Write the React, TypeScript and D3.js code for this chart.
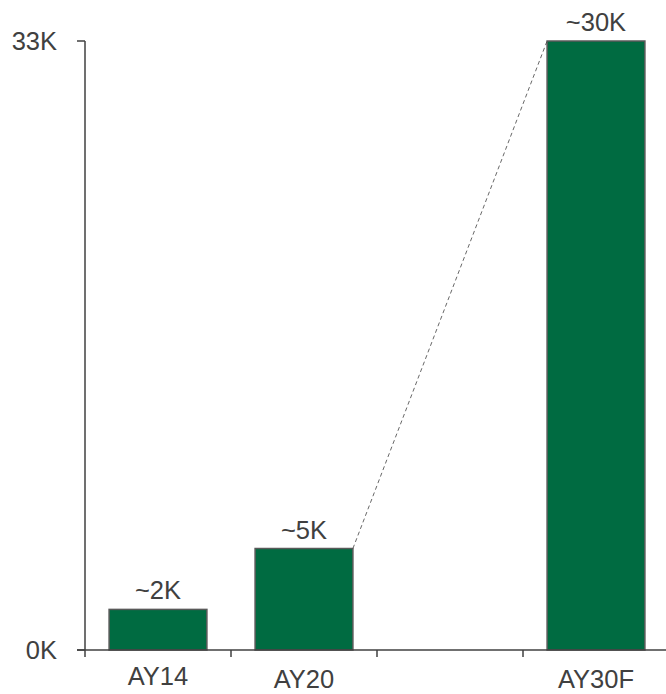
import React from "react";
import * as d3 from "d3";

const categories = ["AY14", "AY20", "", "AY30F"];
const values: (number | null)[] = [2.2, 5.5, null, 33];
const valueLabels = ["~2K", "~5K", "", "~30K"];
const yTickValues = [0, 33];
const yTickLabels = ["0K", "33K"];

const W = 666;
const H = 694;
const FONT = "'Liberation Sans', Arial, Helvetica, sans-serif";
const TEXT = "#404040";
const FS = 25.5;

export default function App() {
  const x = d3
    .scaleBand<string>()
    .domain(categories.map((c, i) => `${i}`))
    .range([85, 669])
    .paddingInner(0.33)
    .paddingOuter(0.165);
  const y = d3.scaleLinear().domain([0, 33]).range([650, 41]);
  const step = x.step();
  const x0 = 85;

  const i20 = 1;
  const i30 = 3;
  const lineFrom = [x(`${i20}`)! + x.bandwidth(), y(values[i20]!)];
  const lineTo = [x(`${i30}`)!, y(values[i30]!)];

  return (
    <svg
      width={W}
      height={H}
      style={{ position: "absolute", left: 0, top: 0, display: "block" }}
      fontFamily={FONT}
    >
      <rect width={W} height={H} fill="#fff" />
      {categories.map((c, i) =>
        values[i] == null ? null : (
          <rect
            key={`b${i}`}
            x={x(`${i}`)}
            y={y(values[i]!)}
            width={x.bandwidth()}
            height={y(0) - y(values[i]!)}
            fill="#006B41"
            stroke="#595959"
            strokeWidth={1.5}
          />
        )
      )}
      <line
        x1={lineFrom[0]}
        y1={lineFrom[1]}
        x2={lineTo[0]}
        y2={lineTo[1]}
        stroke="#404040"
        strokeWidth={0.8}
        strokeDasharray="4,3"
      />
      {categories.map((c, i) =>
        values[i] == null ? null : (
          <text
            key={`v${i}`}
            x={x(`${i}`)! + x.bandwidth() / 2}
            y={y(values[i]!) - 10}
            textAnchor="middle"
            fontSize={FS}
            fill={TEXT}
          >
            {valueLabels[i]}
          </text>
        )
      )}
      <line x1={85} y1={y(33)} x2={85} y2={y(0) + 7} stroke={TEXT} strokeWidth={1.5} />
      {yTickValues.map((v, i) => (
        <g key={`yt${i}`}>
          <line x1={77} x2={85} y1={y(v)} y2={y(v)} stroke={TEXT} strokeWidth={1.5} />
          <text
            x={57}
            y={y(v)}
            dy="0.36em"
            textAnchor="end"
            fontSize={FS}
            fill={TEXT}
          >
            {yTickLabels[i]}
          </text>
        </g>
      ))}
      <line x1={77} x2={W} y1={y(0)} y2={y(0)} stroke={TEXT} strokeWidth={1.5} />
      {categories.map((c, i) =>
        i === 0 ? null : (
          <line
            key={`xt${i}`}
            x1={x0 + step * i}
            x2={x0 + step * i}
            y1={y(0)}
            y2={y(0) + 7}
            stroke={TEXT}
            strokeWidth={1.5}
          />
        )
      )}
      {categories.map((c, i) =>
        c === "" ? null : (
          <text
            key={`xl${i}`}
            x={x(`${i}`)! + x.bandwidth() / 2}
            y={i === 0 ? 685 : 688}
            textAnchor="middle"
            fontSize={FS}
            fill={TEXT}
          >
            {c}
          </text>
        )
      )}
    </svg>
  );
}
